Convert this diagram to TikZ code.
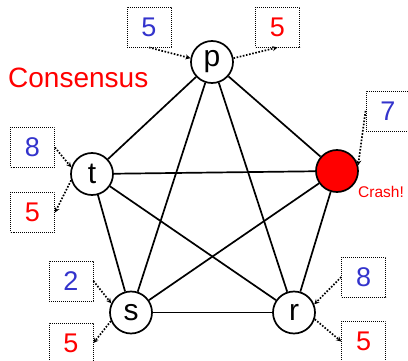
\documentclass[tikz,border=0pt]{standalone}
\usepackage{fontspec}
\setmainfont{Liberation Sans}
\usetikzlibrary{arrows.meta}
\definecolor{numblue}{RGB}{51,51,204}
\definecolor{numred}{RGB}{255,0,0}
\tikzset{
  proc/.style={circle, draw, line width=1.7pt, minimum size=42pt, inner sep=0pt, font=\fontsize{30}{30}\selectfont},
  crashed/.style={proc, fill=red},
  valbox/.style={draw, dash pattern=on 0.9pt off 1.1pt, line width=0.9pt, minimum width=44pt, minimum height=40pt, inner sep=0pt, font=\fontsize{27}{27}\selectfont},
  bluev/.style={valbox, text=numblue},
  redv/.style={valbox, text=numred},
  link/.style={line width=1.7pt},
  msg/.style={dash pattern=on 1.6pt off 1.6pt, line width=1.7pt, -{Stealth[length=5pt,width=5pt]}},
}
\begin{document}
\begin{tikzpicture}[x=1pt,y=-1pt]
\useasboundingbox (0,0) rectangle (408,361);
\node[proc] (p) at (212,62) {p};
\node[proc] (t) at (92,174) {t};
\node[crashed] (c) at (337,171) {};
\node[proc] (s) at (131,312.5) {s};
\node[proc] (r) at (294,312.5) {r};
\draw[link] (p) -- (t);
\draw[link] (p) -- (c);
\draw[link] (p) -- (s);
\draw[link] (p) -- (r);
\draw[link] (t) -- (c);
\draw[link] (t) -- (s);
\draw[link] (t) -- (r);
\draw[link] (c) -- (s);
\draw[link] (c) -- (r);
\draw[link] (s) -- (r);
\node[bluev] (bp) at (149,27) {5};
\node[redv] (rp) at (277.5,27) {5};
\node[bluev] (bc) at (388,111) {7};
\node[bluev] (bt) at (32.5,147.5) {8};
\node[redv] (rt) at (32.5,212.5) {5};
\node[bluev] (bs) at (71,281) {2};
\node[redv] (rs) at (71,343) {5};
\node[bluev] (br) at (363.7,277) {8};
\node[redv] (rr) at (363.7,341.5) {5};
\draw[msg] (bp.south) -- (p.170);
\draw[msg] (p.10) -- (rp.south);
\draw[msg] (bc.west) -- (c.15);
\draw[msg] (bt.east) -- (t.162);
\draw[msg] (t.197) -- (rt.east);
\draw[msg] (bs.east) -- (s.155);
\draw[msg] (s.203) -- (rs.east);
\draw[msg] (br.west) -- (r.22);
\draw[msg] (r.342) -- (rr.west);
\node[anchor=base west, inner sep=0pt, text=numred, font=\fontsize{28}{28}\selectfont] (title) at (8,88) {Consensus};
\node[anchor=base west, inner sep=0pt, text=numred, font=\fontsize{15.5}{15.5}\selectfont] (crash) at (358,198) {Crash!};
\end{tikzpicture}
\end{document}
